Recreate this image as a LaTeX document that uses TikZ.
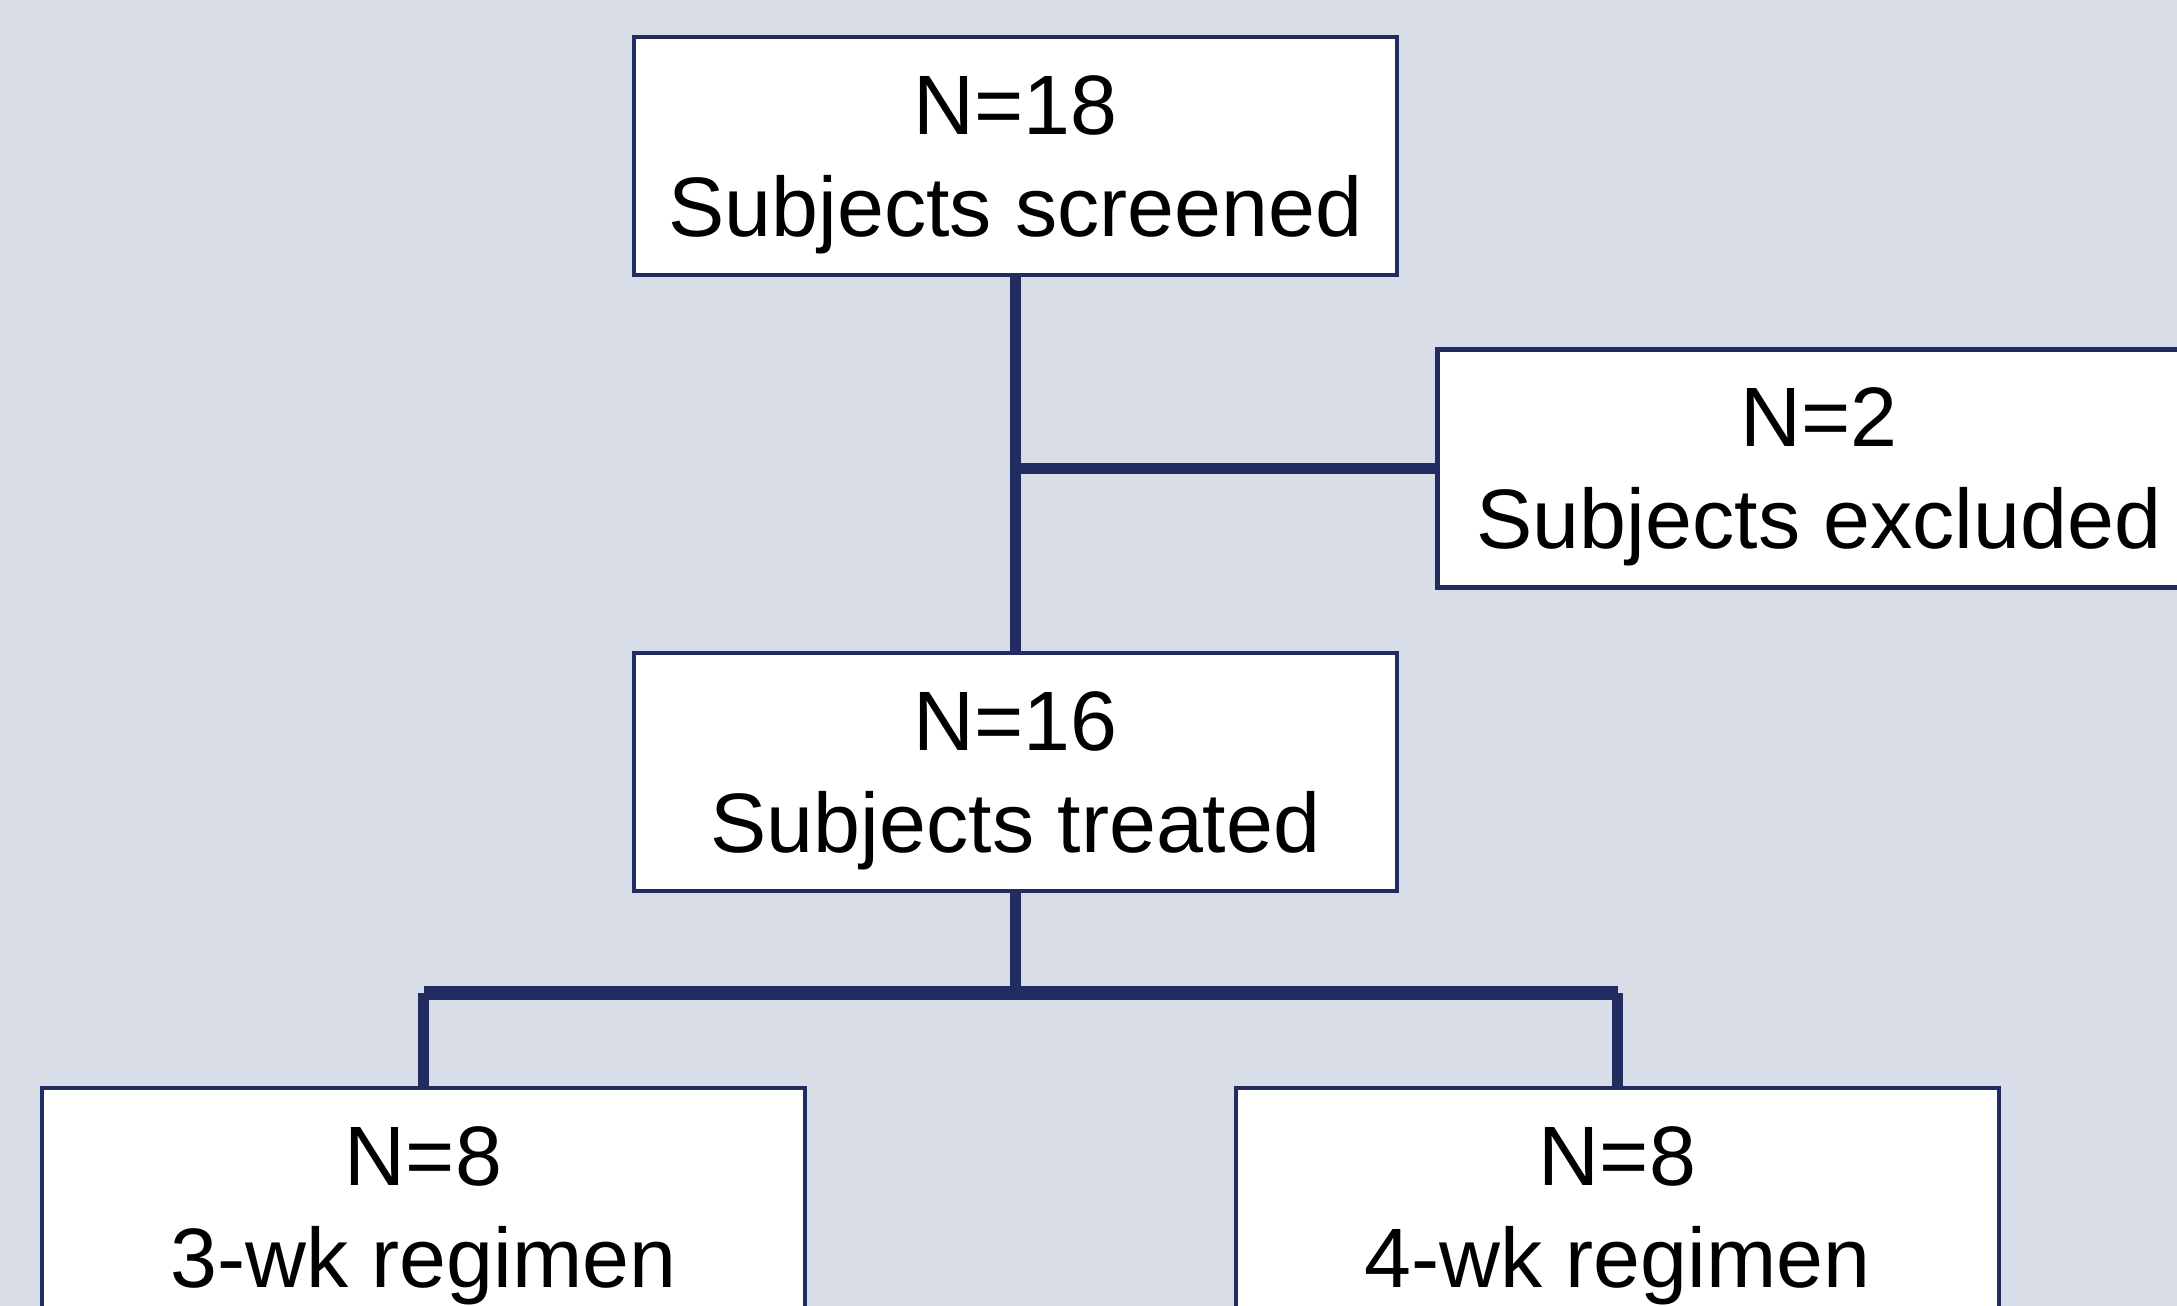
\documentclass[tikz,border=0pt]{standalone}
\usepackage{fontspec}
\setmainfont{Liberation Sans}
\usepackage{xcolor}
\usetikzlibrary{positioning,calc}
\definecolor{panelbg}{RGB}{217,221,232}
\definecolor{navy}{RGB}{33,45,96}

\begin{document}
\begin{tikzpicture}[
  box/.style={draw=navy, line width=1.2pt, fill=white, minimum width=7.63cm, minimum height=2.38cm, align=center, inner sep=0pt, text depth=0pt, font=\fontsize{24}{29}\selectfont},
  link/.style={draw=navy, line width=2.9pt},
  bar/.style={draw=navy, line width=4.2pt}
]
  % Panel
  \useasboundingbox (0,0) rectangle (21.77,-13.06);
  \clip (0,0) rectangle (21.77,-13.06);
  \fill[panelbg] (0,0) rectangle (21.77,-13.06);

  % Boxes
  \node[box] (screened) at (10.155,-1.56) {N=18\\Subjects screened};
  \node[box] (excluded) at (18.19,-4.685) {N=2\\Subjects excluded};
  \node[box] (treated) at (10.155,-7.72) {N=16\\Subjects treated};
  \node[box] (wk3) at (4.235,-12.07) {N=8\\3-wk regimen};
  \node[box] (wk4) at (16.175,-12.07) {N=8\\4-wk regimen};

  % Junctions
  \coordinate (split) at (screened.south |- excluded.west);
  \coordinate (branch) at (10.155,-9.93);
  \coordinate (barL) at (wk3.north |- branch);
  \coordinate (barR) at (wk4.north |- branch);

  % Connectors
  \draw[link] (screened) -- (treated);
  \draw[link] (split) -- (excluded);
  \draw[link] (treated) -- (branch);
  \draw[bar] (barL) -- (barR);
  \draw[link] (barL) -- (wk3);
  \draw[link] (barR) -- (wk4);
\end{tikzpicture}
\end{document}
